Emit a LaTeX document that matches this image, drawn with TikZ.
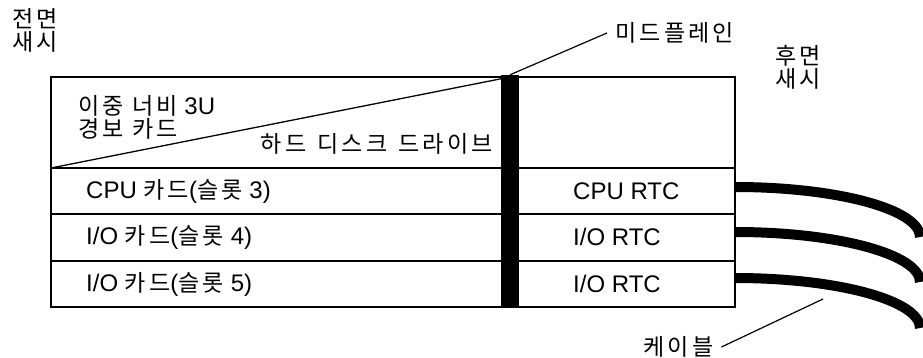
\documentclass[tikz,border=0pt]{standalone}
\usepackage{fontspec}
\setmainfont{Liberation Sans}
\newfontfamily\hangul{Noto Sans CJK KR}[Scale=0.96,LetterSpace=14]
\usetikzlibrary{positioning}
\newcommand{\kr}[1]{{\hangul #1}}

\begin{document}
\begin{tikzpicture}[x=1pt,y=-1pt,
    font=\fontsize{24}{23}\selectfont,
    lbl/.style={inner sep=0pt,anchor=west},
    frame/.style={line width=2.6pt},
    leader/.style={line width=1.2pt},
    cable/.style={line width=10pt}]
  \useasboundingbox (0,0) rectangle (923,358);
  % chassis and slots
  \draw[frame] (51,77) rectangle (735,307);
  \draw[frame] (51,168) -- (735,168);
  \draw[frame] (51,214) -- (735,214);
  \draw[frame] (51,261) -- (735,261);
  \draw[line width=1.3pt] (51,168) -- (510,77);
  \node[fill=black,inner sep=0pt,minimum width=18pt,minimum height=233pt] (midplane) at (510,191.5) {};
  % labels
  \node[lbl,align=left] (front) at (12,30) {\kr{전면}\\\kr{새시}};
  \node[lbl,align=left] (rear) at (775,67) {\kr{후면}\\\kr{새시}};
  \node[lbl,align=left] (alarm) at (78,117) {\kr{이중 너비} 3U\\\kr{경보 카드}};
  \node[inner sep=0pt,anchor=east] (hdd) at (493,144) {\kr{하드\hspace{11pt}디스크\hspace{11pt}드라이브}};
  \node[lbl] (cpu) at (86,191) {CPU \kr{카드}(\kr{슬롯} 3)};
  \node[lbl] (io4) at (86,237) {I/O \kr{카드}(\kr{슬롯} 4)};
  \node[lbl] (io5) at (86,284) {I/O \kr{카드}(\kr{슬롯} 5)};
  \node[lbl] (cpurtc) at (573,191) {CPU RTC};
  \node[lbl] (iortc4) at (573,237) {I/O RTC};
  \node[lbl] (iortc5) at (573,284) {I/O RTC};
  \node[lbl,inner xsep=8pt] (mplbl) at (607,33) {\kr{미드플레인}};
  \node[lbl,inner xsep=8pt] (cablbl) at (635,347) {\kr{케이블}};
  % cables
  \coordinate (cab1) at (735,187);
  \coordinate (cab2) at (735,232);
  \coordinate (cab3) at (735,278);
  \draw[cable] (cab1) arc[start angle=-90,end angle=0,x radius=185,y radius=50];
  \draw[cable] (cab2) arc[start angle=-90,end angle=0,x radius=185,y radius=50];
  \draw[cable] (cab3) arc[start angle=-90,end angle=0,x radius=185,y radius=50];
  \coordinate (cabtip) at (823,299);
  \draw[leader] (midplane.north) -- (mplbl.west);
  \draw[leader] (cablbl.east) -- (cabtip);
\end{tikzpicture}
\end{document}
